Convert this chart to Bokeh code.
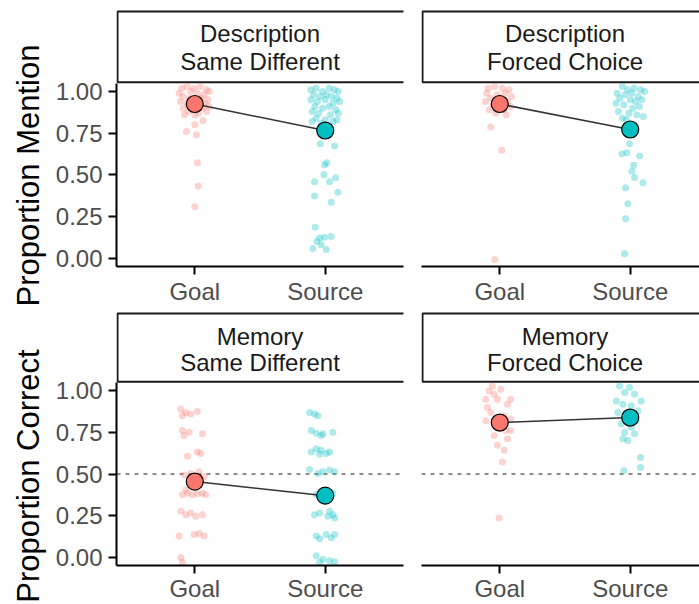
import math
from bokeh.plotting import figure
from bokeh.layouts import column, row
from bokeh.models import Range1d, FixedTicker, NumeralTickFormatter, Span
from bokeh.core.properties import value
from bokeh.embed import file_html
from bokeh.resources import INLINE

# ---------------- data ----------------
groups = ["Goal", "Source"]
group_colors = ["#F8766D", "#00BFC4"]
y_ticks = [0.0, 0.25, 0.5, 0.75, 1.0]
chance_level = 0.5

strip_desc_sd = ["Description", "Same Different"]
strip_desc_fc = ["Description", "Forced Choice"]
strip_mem_sd = ["Memory", "Same Different"]
strip_mem_fc = ["Memory", "Forced Choice"]
y_title_top = "Proportion Mention"
y_title_bottom = "Proportion Correct"

# condition means (Goal, Source)
mean_desc_sd = [0.925, 0.766]
mean_desc_fc = [0.925, 0.772]
mean_mem_sd = [0.455, 0.370]
mean_mem_fc = [0.810, 0.840]

# jittered participant points: horizontal jitter offset, value
desc_sd_goal_dx = [-0.10, -0.06, -0.01, 0.04, 0.09, -0.12, -0.03, 0.02, 0.07, 0.11,
                   -0.09, -0.04, 0.05, 0.10, -0.11, 0.01, 0.08, -0.06, -0.02, 0.06,
                   -0.09, 0.11, -0.05, 0.03, -0.08, 0.09, 0.00,
                   -0.064, 0.013, 0.064, 0.00, 0.02, 0.026, 0.00]
desc_sd_goal_y = [1.02, 1.03, 1.02, 1.03, 1.01, 0.99, 1.00, 0.99, 0.98, 1.00,
                  0.97, 0.96, 0.96, 0.95, 0.94, 0.95, 0.93, 0.93, 0.91, 0.90,
                  0.90, 0.91, 0.88, 0.87, 0.86, 0.88, 0.86,
                  0.76, 0.74, 0.826, 0.80, 0.573, 0.433, 0.308]
desc_sd_source_dx = [-0.11, -0.07, -0.02, 0.03, 0.07, 0.10, -0.09, -0.04, 0.01, 0.05,
                     0.09, -0.11, -0.06, 0.00, 0.06, 0.11, -0.08, -0.02, 0.03, 0.08,
                     -0.10, -0.05, 0.04, 0.10, -0.07, 0.00, 0.06, -0.03, 0.09, -0.10,
                     -0.038, 0.072, 0.013, -0.005, -0.01, -0.082, 0.033, 0.079, -0.082,
                     0.097, 0.046, -0.077, -0.005, 0.046, -0.043, -0.064, -0.095, 0.008, -0.031]
desc_sd_source_y = [1.01, 1.02, 1.00, 1.02, 1.01, 1.00, 0.98, 0.97, 0.98, 0.97,
                    0.96, 0.95, 0.94, 0.95, 0.93, 0.94, 0.91, 0.90, 0.91, 0.89,
                    0.88, 0.87, 0.86, 0.87, 0.84, 0.83, 0.82, 0.81, 0.83, 0.82,
                    0.686, 0.673, 0.573, 0.56, 0.50, 0.458, 0.458, 0.482, 0.373,
                    0.395, 0.335, 0.185, 0.125, 0.13, 0.121, 0.10, 0.058, 0.052, 0.08]

desc_fc_goal_dx = [-0.09, -0.04, 0.02, 0.07, -0.10, -0.02, 0.04, 0.09, -0.07, 0.01,
                   0.06, -0.11, -0.05, 0.08, -0.08, 0.03, -0.03, 0.05,
                   -0.069, 0.015, -0.038]
desc_fc_goal_y = [1.02, 1.03, 1.02, 1.01, 0.99, 0.98, 0.99, 0.97, 0.96, 0.95,
                  0.94, 0.94, 0.92, 0.91, 0.89, 0.89, 0.87, 0.86,
                  0.787, 0.647, -0.008]
desc_fc_source_dx = [-0.06, -0.02, 0.03, 0.08, 0.11, -0.10, -0.04, 0.01, 0.06, -0.08,
                     0.00, 0.09, 0.04, -0.11, -0.05, 0.07, 0.02, -0.09, -0.01, 0.05,
                     -0.06, 0.10, -0.03,
                     -0.005, -0.064, -0.026, 0.072, 0.026, 0.013, 0.033, 0.097, -0.036,
                     -0.018, -0.036, -0.043]
desc_fc_source_y = [1.03, 1.01, 1.02, 1.01, 1.00, 0.99, 0.98, 0.99, 0.97, 0.96,
                    0.95, 0.95, 0.94, 0.93, 0.92, 0.91, 0.90, 0.88, 0.87, 0.86,
                    0.84, 0.85, 0.83,
                    0.686, 0.627, 0.633, 0.613, 0.558, 0.522, 0.484, 0.452, 0.423,
                    0.327, 0.236, 0.026]

mem_sd_goal_dx = [-0.107, -0.069, -0.031, 0.02, -0.095,
                  -0.095, -0.082, -0.043, 0.059,
                  -0.056, 0.02, 0.046,
                  -0.082, 0.033, 0.072, -0.031,
                  -0.095, -0.056, -0.018, 0.02, 0.059, 0.084, -0.069,
                  -0.107, -0.069, -0.031, 0.008, 0.059,
                  -0.12, -0.005, 0.033, 0.072,
                  -0.107, -0.095]
mem_sd_goal_y = [0.891, 0.869, 0.861, 0.877, 0.851,
                 0.762, 0.732, 0.752, 0.742,
                 0.607, 0.633, 0.623,
                 0.494, 0.514, 0.484, 0.504,
                 0.375, 0.385, 0.375, 0.381, 0.385, 0.375, 0.405,
                 0.276, 0.256, 0.266, 0.246, 0.256,
                 0.127, 0.137, 0.143, 0.127,
                 -0.002, -0.031]
mem_sd_source_dx = [-0.12, -0.082, -0.056,
                    -0.107, -0.069, -0.031, -0.018, 0.059,
                    -0.107, -0.069, -0.031, 0.008, -0.043, 0.033,
                    -0.12, -0.056, -0.018, 0.033, 0.072,
                    0.02, 0.059, -0.069,
                    -0.082, -0.043, 0.02, 0.059, 0.072, 0.033,
                    -0.069, 0.008, 0.046, -0.043, 0.072,
                    -0.069, -0.018, 0.033, -0.043, 0.072]
mem_sd_source_y = [0.871, 0.861, 0.851,
                   0.762, 0.746, 0.732, 0.742, 0.752,
                   0.633, 0.653, 0.643, 0.623, 0.619, 0.633,
                   0.528, 0.504, 0.514, 0.524, 0.514,
                   0.395, 0.385, 0.375,
                   0.256, 0.266, 0.246, 0.256, 0.236, 0.276,
                   0.127, 0.137, 0.117, 0.111, 0.137,
                   0.008, -0.012, -0.022, -0.031, -0.028]

mem_fc_goal_dx = [-0.056, 0.008, -0.043, -0.018, -0.107, 0.084, 0.059, -0.095, -0.069,
                  0.033, 0.084, -0.107, 0.046, 0.084, -0.043, 0.059, -0.018, 0.033,
                  0.02, -0.005, -0.082, -0.031, 0.02]
mem_fc_goal_y = [1.03, 1.01, 0.98, 0.95, 0.95, 0.95, 0.92, 0.901, 0.871,
                 0.851, 0.831, 0.821, 0.762, 0.762, 0.732, 0.712, 0.673, 0.643,
                 0.573, 0.236, 1.00, 0.821, 0.80]
mem_fc_source_dx = [-0.082, -0.005, -0.043, 0.033, -0.107, 0.084, -0.056, 0.008, 0.059,
                    -0.095, -0.031, 0.046, -0.069, 0.008, -0.043, 0.033, -0.056, -0.018,
                    0.079, 0.079, -0.049]
mem_fc_source_y = [1.03, 1.02, 0.99, 0.98, 0.94, 0.94, 0.92, 0.911, 0.881,
                   0.871, 0.841, 0.821, 0.802, 0.782, 0.752, 0.742, 0.712, 0.702,
                   0.599, 0.540, 0.520]

# ---------------- styling / layout ----------------
FONT = "Liberation Sans"
TITLE_W = 48
LEFT_W, RIGHT_W = 412 - TITLE_W, 287
FRAME_LEFT = 116 - TITLE_W
FRAME_W = 287
X_START = 0.4
X_SPAN = 2.2
PPX = FRAME_W / X_SPAN                      # pixels per x unit
RIGHT_FRAME_W = RIGHT_W - 9
RIGHT_X_END = X_START + RIGHT_FRAME_W / PPX
Y_LO, Y_HI = -0.05, 1.05                    # data panel range


def make_title(height, text, center_from_top):
    p = figure(width=TITLE_W, height=height, x_range=Range1d(0, TITLE_W),
               y_range=Range1d(0, height), min_border=0, toolbar_location=None,
               output_backend="svg", x_axis_location=None, y_axis_location=None)
    p.grid.visible = False
    p.outline_line_color = None
    p.border_fill_color = "white"
    p.text(x=[28], y=[height - center_from_top], text=[text], angle=math.pi / 2,
           text_align="center", text_baseline="middle",
           text_font=value(FONT), text_font_size="31px", text_color="black")
    return p


def make_panel(width, height, mb_left, mb_right, mb_bottom, x_end, left_axis,
               panel_px, strip_lines, strip_box, strip_line_px,
               goal, source, means, chance, label_standoff):
    # panel_px: pixel height of the data panel; the frame also holds the strip above it
    ppy = panel_px / (Y_HI - Y_LO)
    frame_px = height - mb_bottom
    y_top = Y_LO + frame_px / ppy

    def y_at(px_from_top):
        return y_top - px_from_top / ppy

    p = figure(width=width, height=height,
               x_range=Range1d(X_START, x_end), y_range=Range1d(Y_LO, y_top),
               min_border_left=mb_left, min_border_right=mb_right,
               min_border_top=0, min_border_bottom=mb_bottom,
               toolbar_location=None, output_backend="svg",
               y_axis_location="left" if left_axis else None)
    p.grid.visible = False
    p.outline_line_color = None
    p.background_fill_color = "white"
    p.border_fill_color = "white"

    # facet strip
    box_top, box_bottom = strip_box
    p.quad(left=[X_START + 1 / PPX], right=[X_START + (FRAME_W + 20) / PPX],
           top=[y_at(box_top)], bottom=[y_at(box_bottom)],
           fill_color="white", line_color="#1a1a1a", line_width=2)
    cx = X_START + (FRAME_W / 2) / PPX
    p.text(x=[cx, cx], y=[y_at(v) for v in strip_line_px], text=strip_lines,
           text_align="center", text_baseline="middle",
           text_font=value(FONT), text_font_size="24px", text_color="#1a1a1a")

    if chance is not None:
        p.add_layout(Span(location=chance, dimension="width", line_color="#8c8c8c",
                          line_width=2, line_dash="4 5", level="underlay"))
    for gi, (dx, ys) in enumerate([goal, source]):
        xs = [gi + 1 + d for d in dx]
        p.scatter(xs, ys, size=7, fill_color=group_colors[gi], fill_alpha=0.32,
                  line_color=None)
    p.line([1, 2], means, line_color="#333333", line_width=1.5)
    p.scatter([1, 2], means, size=17, fill_color=group_colors, line_color="black",
              line_width=1.2)

    xa = p.xaxis[0]
    xa.ticker = FixedTicker(ticks=[1, 2])
    xa.major_label_overrides = {1: groups[0], 2: groups[1]}
    axes = [xa]
    if left_axis:
        ya = p.yaxis[0]
        ya.ticker = FixedTicker(ticks=y_ticks)
        ya.formatter = NumeralTickFormatter(format="0.00")
        ya.bounds = (Y_LO, Y_HI)
        ya.major_label_standoff = 6
        axes.append(ya)
    for ax in axes:
        ax.axis_line_color = "black"
        ax.axis_line_width = 2
        ax.major_tick_line_color = "black"
        ax.major_tick_line_width = 2
        ax.major_tick_out = 8
        ax.major_tick_in = 0
        ax.minor_tick_out = 0
        ax.minor_tick_in = 0
        ax.major_label_text_font = FONT
        ax.major_label_text_font_size = "24px"
        ax.major_label_text_color = "#4D4D4D"
    xa.major_label_standoff = label_standoff
    return p


TOP_H, BOT_H = 307, 297
# top row: strip box 11..82 px, data panel 83..267 px
t_top = make_title(TOP_H, y_title_top, 175)
p_tl = make_panel(LEFT_W, TOP_H, FRAME_LEFT, 9, 40, 2.6, True, 184,
                  strip_desc_sd, (11, 82), (33.5, 61),
                  (desc_sd_goal_dx, desc_sd_goal_y), (desc_sd_source_dx, desc_sd_source_y),
                  mean_desc_sd, None, 3)
p_tr = make_panel(RIGHT_W, TOP_H, 9, 0, 40, RIGHT_X_END, False, 184,
                  strip_desc_fc, (11, 82), (33.5, 61),
                  (desc_fc_goal_dx, desc_fc_goal_y), (desc_fc_source_dx, desc_fc_source_y),
                  mean_desc_fc, None, 3)
# bottom row: strip box 313..382 px, data panel 383..568 px
t_bottom = make_title(BOT_H, y_title_bottom, 76 + 92.5)
p_bl = make_panel(LEFT_W, BOT_H, FRAME_LEFT, 9, 36, 2.6, True, 185,
                  strip_mem_sd, (6, 75), (29, 56),
                  (mem_sd_goal_dx, mem_sd_goal_y), (mem_sd_source_dx, mem_sd_source_y),
                  mean_mem_sd, chance_level, 1)
p_br = make_panel(RIGHT_W, BOT_H, 9, 0, 36, RIGHT_X_END, False, 185,
                  strip_mem_fc, (6, 75), (29, 56),
                  (mem_fc_goal_dx, mem_fc_goal_y), (mem_fc_source_dx, mem_fc_source_y),
                  mean_mem_fc, chance_level, 1)

panels = column(row(p_tl, p_tr), row(p_bl, p_br))
titles = column(t_top, t_bottom)
layout = row(titles, panels)

open("out.html", "w").write(file_html(layout, INLINE))
